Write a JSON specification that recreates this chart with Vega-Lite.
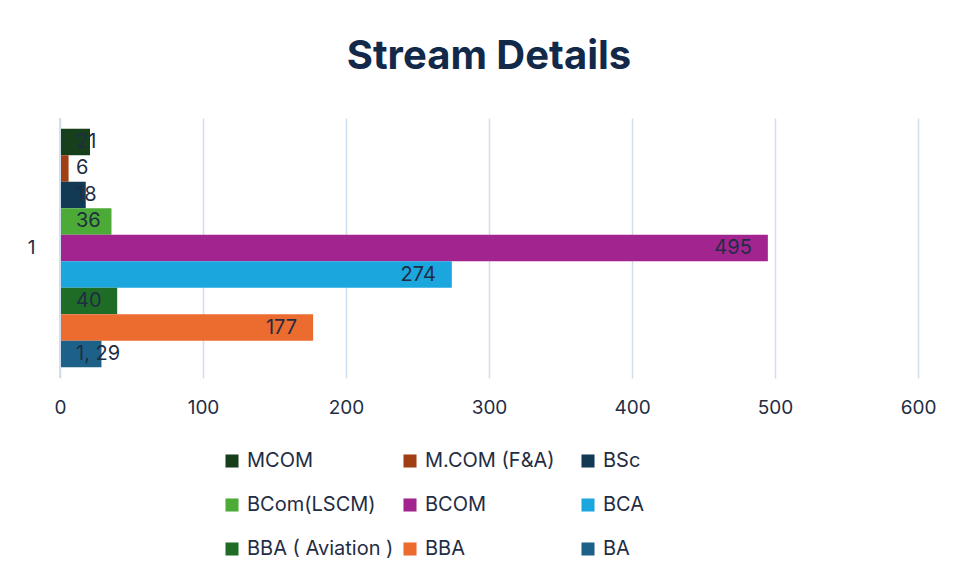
{
  "$schema": "https://vega.github.io/schema/vega-lite/v6.json",
  "width": 858,
  "height": 260,
  "autosize": {"type": "none"},
  "padding": {"left": 60, "top": 118, "right": 39, "bottom": 198},
  "background": "white",
  "title": {
    "text": "Stream Details",
    "font": "Inter",
    "fontSize": 40,
    "fontWeight": "bold",
    "color": "#12294a",
    "anchor": "middle",
    "offset": 40
  },
  "config": {
    "font": "Inter",
    "view": {"stroke": null},
    "axis": {"labelFont": "Inter", "labelColor": "#1f2d44", "labelFontSize": 19}
  },
  "data": {
    "values": [
      {"cat": "1", "stream": "MCOM", "count": 21, "label": "21"},
      {"cat": "1", "stream": "M.COM (F&A)", "count": 6, "label": "6"},
      {"cat": "1", "stream": "BSc", "count": 18, "label": "18"},
      {"cat": "1", "stream": "BCom(LSCM)", "count": 36, "label": "36"},
      {"cat": "1", "stream": "BCOM", "count": 495, "label": "495"},
      {"cat": "1", "stream": "BCA", "count": 274, "label": "274"},
      {"cat": "1", "stream": "BBA ( Aviation )", "count": 40, "label": "40"},
      {"cat": "1", "stream": "BBA", "count": 177, "label": "177"},
      {"cat": "1", "stream": "BA", "count": 29, "label": "1, 29"}
    ]
  },
  "encoding": {
    "y": {
      "field": "cat",
      "type": "nominal",
      "scale": {"paddingInner": 0, "paddingOuter": 0.045},
      "axis": {"title": null, "ticks": false, "domain": false, "labelPadding": 25, "labelAngle": 0}
    },
    "yOffset": {
      "field": "stream",
      "type": "nominal",
      "sort": ["MCOM", "M.COM (F&A)", "BSc", "BCom(LSCM)", "BCOM", "BCA", "BBA ( Aviation )", "BBA", "BA"],
      "scale": {"paddingInner": 0, "paddingOuter": 0}
    }
  },
  "layer": [
    {
      "mark": {"type": "bar"},
      "encoding": {
        "x": {
          "field": "count",
          "type": "quantitative",
          "scale": {"domain": [0, 600], "nice": false},
          "axis": {
            "title": null,
            "values": [0, 100, 200, 300, 400, 500, 600],
            "grid": true,
            "gridColor": "#cfdff0",
            "gridWidth": 1.5,
            "ticks": false,
            "domain": false,
            "labelFlush": false,
            "labelPadding": 20
          }
        },
        "color": {
          "field": "stream",
          "type": "nominal",
          "scale": {
            "domain": ["MCOM", "M.COM (F&A)", "BSc", "BCom(LSCM)", "BCOM", "BCA", "BBA ( Aviation )", "BBA", "BA"],
            "range": ["#173f1c", "#a13f14", "#123a55", "#4caa37", "#a2248f", "#1ca6de", "#1f6c27", "#ec6b2e", "#1d6189"]
          },
          "legend": {
            "title": null,
            "orient": "none",
            "legendX": 162,
            "legendY": 333,
            "direction": "horizontal",
            "columns": 3,
            "gridAlign": "all",
            "columnPadding": 6,
            "rowPadding": 24,
            "symbolType": "square",
            "symbolSize": 170,
            "symbolStrokeWidth": 0,
            "labelFontSize": 20,
            "labelColor": "#1f2d44",
            "labelFont": "Inter",
            "labelOffset": 5,
            "labelLimit": 300
          }
        }
      }
    },
    {
      "mark": {"type": "rule", "color": "#cfdff0", "strokeWidth": 1.5},
      "encoding": {"x": {"datum": 0, "type": "quantitative"}, "y": {"value": 0}, "y2": {"value": 260}, "yOffset": null}
    },
    {
      "transform": [{"filter": "datum.count < 100"}],
      "mark": {"type": "text", "align": "left", "baseline": "middle", "dx": 16, "fontSize": 20, "color": "#1f2d44", "font": "Inter"},
      "encoding": {"x": {"datum": 0, "type": "quantitative"}, "text": {"field": "label"}}
    },
    {
      "transform": [{"filter": "datum.count >= 100"}],
      "mark": {"type": "text", "align": "right", "baseline": "middle", "dx": -16, "fontSize": 20, "color": "#1f2d44", "font": "Inter"},
      "encoding": {"x": {"field": "count", "type": "quantitative"}, "text": {"field": "label"}}
    }
  ]
}
